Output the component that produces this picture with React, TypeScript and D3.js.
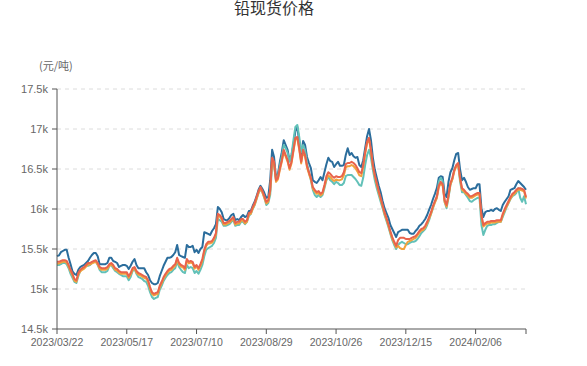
import React from "react";
import * as d3 from "d3";

const TITLE = "铅现货价格";
const UNIT = "(元/吨)";
const X_TICK_LABELS = ["2023/03/22", "2023/05/17", "2023/07/10", "2023/08/29", "2023/10/26", "2023/12/15", "2024/02/06"];
const X_TICK_STEP = 36;
const Y_TICKS = [14500, 15000, 15500, 16000, 16500, 17000, 17500];

const seriesBlue = [
  15410, 15420, 15460, 15475, 15490, 15490, 15390, 15310, 15220, 15190,
  15175, 15240, 15275, 15290, 15300, 15325, 15350, 15390, 15425, 15450,
  15450, 15410, 15310, 15310, 15310, 15310, 15325, 15390, 15390, 15350,
  15340, 15325, 15275, 15290, 15300, 15300, 15290, 15250, 15290, 15340,
  15375, 15300, 15260, 15260, 15260, 15260, 15210, 15175, 15110, 15075,
  15060, 15060, 15075, 15160, 15225, 15290, 15340, 15390, 15390, 15400,
  15425, 15460, 15550, 15425, 15410, 15400, 15390, 15550, 15525, 15525,
  15540, 15460, 15490, 15450, 15500, 15525, 15710, 15700, 15690, 15675,
  15725, 15760, 15810, 16025, 16000, 15960, 15875, 15860, 15860, 15890,
  15925, 15940, 15860, 15875, 15860, 15900, 15925, 15900, 15910, 15975,
  15975, 16040, 16090, 16160, 16240, 16290, 16250, 16200, 16140, 16150,
  16360, 16740, 16650, 16390, 16440, 16590, 16710, 16860, 16800, 16740,
  16600, 16675, 16800, 16975, 17025, 16840, 16660, 16850, 16800, 16650,
  16575, 16510, 16360, 16340, 16325, 16360, 16400, 16360, 16460, 16560,
  16640, 16600, 16590, 16525, 16560, 16590, 16540, 16540, 16550, 16675,
  16760, 16675, 16700, 16660, 16640, 16650, 16550, 16525, 16610, 16760,
  16910, 17000, 16860, 16640, 16490, 16390, 16290, 16210, 16100, 16010,
  15950, 15890, 15800, 15750, 15700, 15650, 15710, 15725, 15740, 15740,
  15740, 15740, 15700, 15690, 15690, 15725, 15750, 15790, 15810, 15840,
  15875, 15925, 15990, 16050, 16125, 16190, 16260, 16390, 16410, 16400,
  16190, 16150, 16340, 16460, 16510, 16610, 16690, 16700, 16490, 16360,
  16390, 16340, 16275, 16240, 16250, 16260, 16260, 16310, 16310, 16010,
  15900, 15960, 15975, 15975, 15990, 15975, 16000, 16010, 15990, 15975,
  16050, 16090, 16125, 16160, 16240, 16250, 16260, 16310, 16350, 16325,
  16300, 16275, 16240,
];

const seriesRed = [
  15340, 15340, 15350, 15360, 15360, 15350, 15300, 15240, 15190, 15125,
  15110, 15200, 15240, 15260, 15275, 15300, 15325, 15325, 15340, 15350,
  15360, 15325, 15275, 15260, 15260, 15260, 15275, 15310, 15325, 15300,
  15260, 15250, 15225, 15210, 15210, 15210, 15210, 15160, 15200, 15260,
  15275, 15225, 15200, 15190, 15175, 15160, 15150, 15110, 15025, 14960,
  14940, 14950, 14960, 15040, 15090, 15150, 15190, 15225, 15250, 15260,
  15290, 15310, 15390, 15325, 15300, 15290, 15260, 15375, 15340, 15350,
  15340, 15275, 15300, 15260, 15310, 15375, 15490, 15560, 15590, 15590,
  15600, 15640, 15700, 15940, 15925, 15890, 15825, 15825, 15840, 15850,
  15875, 15900, 15825, 15840, 15840, 15875, 15875, 15840, 15860, 15950,
  15960, 16025, 16075, 16150, 16225, 16275, 16225, 16160, 16090, 16110,
  16240, 16640, 16590, 16360, 16390, 16510, 16610, 16740, 16675, 16610,
  16510, 16590, 16740, 16890, 16900, 16760, 16590, 16740, 16675, 16540,
  16460, 16390, 16275, 16240, 16210, 16225, 16190, 16210, 16300, 16410,
  16460, 16440, 16410, 16390, 16410, 16400, 16400, 16410, 16460, 16560,
  16575, 16575, 16590, 16575, 16550, 16510, 16460, 16450, 16550, 16710,
  16840, 16890, 16740, 16550, 16425, 16325, 16225, 16140, 16050, 15960,
  15890, 15810, 15725, 15650, 15590, 15540, 15610, 15640, 15640, 15640,
  15625, 15625, 15625, 15640, 15650, 15660, 15690, 15725, 15750, 15760,
  15790, 15840, 15900, 15960, 16040, 16100, 16160, 16290, 16340, 16310,
  16110, 16050, 16175, 16325, 16390, 16490, 16550, 16575, 16390, 16260,
  16240, 16210, 16190, 16160, 16160, 16175, 16190, 16200, 16200, 15925,
  15800, 15825, 15840, 15840, 15850, 15850, 15850, 15860, 15860, 15860,
  15940, 16000, 16050, 16100, 16150, 16190, 16210, 16240, 16260, 16260,
  16250, 16240, 16150,
];

const seriesTeal = [
  15300, 15300, 15310, 15325, 15325, 15310, 15260, 15190, 15140, 15090,
  15075, 15160, 15225, 15260, 15260, 15290, 15290, 15300, 15325, 15340,
  15350, 15300, 15240, 15210, 15210, 15210, 15225, 15290, 15300, 15260,
  15225, 15210, 15190, 15175, 15160, 15160, 15160, 15110, 15150, 15225,
  15250, 15190, 15150, 15140, 15125, 15100, 15090, 15040, 14960, 14900,
  14875, 14890, 14900, 14990, 15040, 15100, 15140, 15175, 15200, 15210,
  15240, 15260, 15340, 15275, 15240, 15210, 15200, 15300, 15260, 15275,
  15260, 15200, 15225, 15190, 15240, 15300, 15410, 15490, 15510, 15525,
  15540, 15575, 15640, 15875, 15860, 15840, 15790, 15790, 15800, 15810,
  15840, 15860, 15790, 15800, 15800, 15840, 15840, 15810, 15840, 15910,
  15940, 16000, 16050, 16125, 16200, 16250, 16210, 16140, 16050, 16075,
  16175, 16550, 16550, 16360, 16410, 16540, 16660, 16800, 16760, 16700,
  16590, 16675, 16860, 17025, 17050, 16900, 16710, 16800, 16740, 16575,
  16460, 16360, 16240, 16175, 16150, 16175, 16150, 16175, 16260, 16360,
  16400, 16360, 16340, 16310, 16340, 16325, 16300, 16300, 16325, 16410,
  16425, 16425, 16425, 16400, 16375, 16340, 16300, 16290, 16390, 16550,
  16675, 16740, 16640, 16490, 16360, 16260, 16175, 16090, 16010, 15925,
  15850, 15775, 15690, 15610, 15550, 15500, 15550, 15575, 15590, 15575,
  15560, 15560, 15575, 15590, 15590, 15600, 15625, 15660, 15700, 15725,
  15750, 15800, 15860, 15940, 16010, 16090, 16140, 16340, 16390, 16350,
  16090, 16010, 16140, 16300, 16375, 16490, 16540, 16550, 16340, 16210,
  16210, 16175, 16140, 16100, 16090, 16110, 16125, 16140, 16140, 15800,
  15675, 15740, 15790, 15800, 15800, 15810, 15810, 15825, 15840, 15840,
  15900, 15960, 16025, 16075, 16125, 16160, 16175, 16200, 16260, 16140,
  16090, 16160, 16060,
];

const seriesOrange = [
  15320, 15320, 15330, 15340, 15340, 15330, 15280, 15220, 15170, 15105,
  15090, 15180, 15220, 15240, 15255, 15280, 15305, 15305, 15320, 15330,
  15340, 15305, 15255, 15240, 15240, 15240, 15255, 15290, 15305, 15280,
  15240, 15230, 15205, 15190, 15190, 15190, 15190, 15140, 15180, 15240,
  15255, 15205, 15180, 15170, 15155, 15140, 15130, 15090, 15005, 14940,
  14920, 14930, 14940, 15020, 15070, 15130, 15170, 15205, 15230, 15240,
  15270, 15290, 15370, 15305, 15280, 15270, 15240, 15355, 15320, 15330,
  15320, 15255, 15280, 15240, 15290, 15355, 15470, 15540, 15570, 15570,
  15580, 15620, 15680, 15920, 15905, 15870, 15805, 15805, 15820, 15830,
  15855, 15880, 15805, 15820, 15820, 15855, 15855, 15820, 15840, 15930,
  15940, 16005, 16055, 16130, 16205, 16255, 16205, 16140, 16070, 16090,
  16220, 16620, 16570, 16340, 16370, 16490, 16590, 16720, 16655, 16590,
  16490, 16570, 16720, 16870, 16880, 16740, 16570, 16720, 16655, 16520,
  16440, 16370, 16255, 16220, 16190, 16205, 16170, 16190, 16280, 16370,
  16420, 16400, 16370, 16350, 16370, 16360, 16360, 16370, 16420, 16520,
  16535, 16535, 16550, 16535, 16510, 16470, 16420, 16410, 16530, 16690,
  16820, 16870, 16720, 16530, 16405, 16305, 16205, 16120, 16030, 15940,
  15870, 15790, 15705, 15630, 15570, 15520, 15540, 15510, 15500, 15500,
  15550, 15590, 15600, 15610, 15625, 15640, 15670, 15705, 15730, 15740,
  15770, 15820, 15880, 15940, 16020, 16080, 16140, 16270, 16320, 16290,
  16090, 16030, 16155, 16305, 16370, 16470, 16530, 16555, 16370, 16240,
  16220, 16190, 16170, 16140, 16140, 16155, 16170, 16180, 16180, 15905,
  15780, 15805, 15820, 15820, 15830, 15830, 15830, 15840, 15840, 15840,
  15920, 15980, 16030, 16080, 16130, 16170, 16190, 16220, 16240, 16240,
  16230, 16220, 16130,
];

const SERIES = [
  { name: "blue", values: seriesBlue, color: "#2b6d9c" },
  { name: "teal", values: seriesTeal, color: "#62c1b8" },
  { name: "orange", values: seriesOrange, color: "#f2a13c" },
  { name: "red", values: seriesRed, color: "#e8634c" },
];

const W = 587;
const H = 366;
const M = { left: 57, right: 61, top: 89, bottom: 37 };

function fmtK(v: number) {
  return `${v / 1000}k`;
}

export default function App() {
  const n = d3.max(SERIES, (s) => s.values.length) as number;
  const x = d3.scaleLinear().domain([0, n - 1]).range([M.left, W - M.right]);
  const y = d3.scaleLinear().domain([14500, 17500]).range([H - M.bottom, M.top]);
  const line = d3
    .line<number>()
    .x((_, i) => x(i))
    .y((d) => y(d));
  const x0 = M.left;
  const x1 = W - M.right;
  const yb = H - M.bottom;
  const font = "'Liberation Sans', Arial, sans-serif";
  return (
    <svg
      width={W}
      height={H}
      style={{ position: "absolute", left: 0, top: 0, background: "#fff" }}
    >
      <text
        x={274}
        y={14}
        textAnchor="middle"
        fontSize={16}
        fill="#333"
        fontFamily="'Noto Sans CJK SC', sans-serif"
      >
        {TITLE}
      </text>
      <text x={39} y={70} fontSize={11} fill="#666" fontFamily="'Noto Sans CJK SC', sans-serif">
        {UNIT}
      </text>
      {Y_TICKS.map((t) => (
        <g key={t}>
          {t !== 14500 && (
            <line
              x1={x0}
              x2={x1}
              y1={y(t)}
              y2={y(t)}
              stroke="#dcdcdc"
              strokeDasharray="4,4"
            />
          )}
          <line x1={x0 - 5} x2={x0} y1={y(t)} y2={y(t)} stroke="#555" />
          <text
            x={x0 - 9}
            y={y(t)}
            dy="0.35em"
            textAnchor="end"
            fontSize={11}
            fill="#666"
            fontFamily={font}
          >
            {fmtK(t)}
          </text>
        </g>
      ))}
      {SERIES.map((s) => (
        <path
          key={s.name}
          d={line(s.values) || ""}
          fill="none"
          stroke={s.color}
          strokeWidth={2}
          strokeLinejoin="round"
        />
      ))}
      <line x1={x0} x2={x0} y1={M.top} y2={yb} stroke="#555" />
      <line x1={x0} x2={x1} y1={yb} y2={yb} stroke="#555" />
      {X_TICK_LABELS.map((lab, k) => {
        const px = x(k * X_TICK_STEP);
        return (
          <g key={lab}>
            <line x1={px} x2={px} y1={yb} y2={yb + 5} stroke="#555" />
            <text
              x={px}
              y={yb + 17}
              textAnchor="middle"
              fontSize={10.5}
              fill="#666"
              fontFamily={font}
            >
              {lab}
            </text>
          </g>
        );
      })}
      <line x1={x1} x2={x1} y1={yb} y2={yb + 5} stroke="#555" />
    </svg>
  );
}
